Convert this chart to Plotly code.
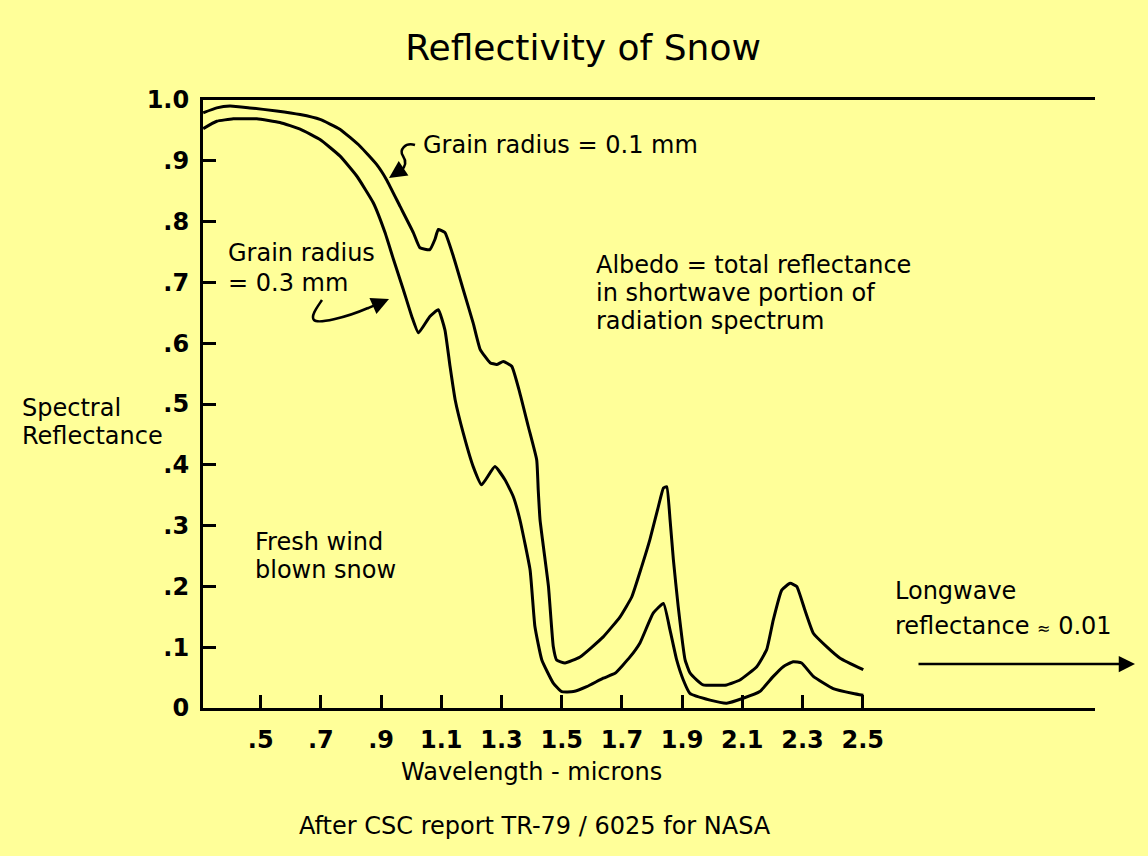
import plotly.graph_objects as go

# ---- data ----
wl_01 = [0.309, 0.354, 0.398, 0.464, 0.553, 0.631, 0.697, 0.763, 0.830, 0.885, 0.918, 0.963,
         1.007, 1.029, 1.062, 1.079, 1.090, 1.112, 1.140, 1.173, 1.206, 1.229, 1.262, 1.284,
         1.306, 1.334, 1.361, 1.389, 1.417, 1.422, 1.428, 1.439, 1.456, 1.472, 1.483, 1.511,
         1.561, 1.638, 1.694, 1.733, 1.766, 1.793, 1.821, 1.838, 1.849, 1.860, 1.871, 1.887,
         1.910, 1.926, 1.949, 1.970, 2.048, 2.092, 2.148, 2.181, 2.203, 2.231, 2.259, 2.281,
         2.308, 2.336, 2.380, 2.425, 2.502]
refl_01 = [0.979, 0.987, 0.990, 0.987, 0.982, 0.976, 0.968, 0.952, 0.924, 0.894, 0.869, 0.825,
           0.782, 0.757, 0.754, 0.771, 0.787, 0.782, 0.743, 0.688, 0.633, 0.590, 0.568, 0.565,
           0.570, 0.562, 0.518, 0.463, 0.408, 0.359, 0.310, 0.266, 0.200, 0.101, 0.079, 0.074,
           0.084, 0.117, 0.150, 0.183, 0.233, 0.277, 0.331, 0.362, 0.364, 0.310, 0.244, 0.167,
           0.079, 0.058, 0.046, 0.038, 0.038, 0.046, 0.068, 0.096, 0.145, 0.194, 0.205, 0.200,
           0.161, 0.123, 0.101, 0.082, 0.063]

wl_03 = [0.309, 0.354, 0.409, 0.487, 0.564, 0.631, 0.697, 0.763, 0.819, 0.874, 0.913, 0.941,
         0.974, 1.002, 1.024, 1.062, 1.090, 1.112, 1.129, 1.146, 1.173, 1.206, 1.234, 1.278,
         1.312, 1.339, 1.361, 1.395, 1.411, 1.434, 1.472, 1.500, 1.539, 1.583, 1.638, 1.677,
         1.727, 1.760, 1.804, 1.838, 1.860, 1.882, 1.904, 1.926, 1.993, 2.048, 2.103, 2.158,
         2.203, 2.236, 2.269, 2.297, 2.336, 2.402, 2.469, 2.502]
refl_03 = [0.953, 0.965, 0.969, 0.969, 0.963, 0.952, 0.935, 0.908, 0.875, 0.831, 0.782, 0.738,
           0.688, 0.644, 0.617, 0.644, 0.655, 0.622, 0.562, 0.507, 0.452, 0.397, 0.367, 0.397,
           0.375, 0.348, 0.310, 0.227, 0.134, 0.079, 0.041, 0.027, 0.027, 0.035, 0.049, 0.057,
           0.084, 0.107, 0.156, 0.172, 0.128, 0.079, 0.046, 0.024, 0.013, 0.008, 0.016, 0.027,
           0.052, 0.068, 0.076, 0.074, 0.052, 0.032, 0.024, 0.021]

x_tick_vals = [0.5, 0.7, 0.9, 1.1, 1.3, 1.5, 1.7, 1.9, 2.1, 2.3, 2.5]
x_tick_text = [".5", ".7", ".9", "1.1", "1.3", "1.5", "1.7", "1.9", "2.1", "2.3", "2.5"]
y_tick_vals = [0, 0.1, 0.2, 0.3, 0.4, 0.5, 0.6, 0.7, 0.8, 0.9, 1.0]
y_tick_text = ["0", ".1", ".2", ".3", ".4", ".5", ".6", ".7", ".8", ".9", "1.0"]

# ---- layout geometry (pixels) ----
W, H = 1148, 856
L, R, T, B = 203, 1095, 100, 708
BG = "#FFFF99"
FONT = "DejaVu Sans"


def px(x):
    return (x - L) / (R - L)


def py(y):
    return (B - y) / (B - T)


fig = go.Figure()
for xs, ys in [(wl_01, refl_01), (wl_03, refl_03)]:
    fig.add_trace(go.Scatter(x=xs, y=ys, mode="lines",
                             line=dict(color="black", width=3, shape="spline", smoothing=0.4),
                             showlegend=False, hoverinfo="skip"))

annotations = []


def label(text, x, y, size=24, xanchor="left"):
    annotations.append(dict(text=text, x=px(x), y=py(y), xref="paper", yref="paper",
                            xanchor=xanchor, yanchor="middle", showarrow=False,
                            font=dict(family=FONT, size=size, color="black")))


label("Grain radius = 0.1 mm", 421, 145)
label("Grain radius", 226, 253)
label("= 0.3 mm", 226, 283)
label("Albedo = total reflectance", 594, 265)
label("in shortwave portion of", 594, 293)
label("radiation spectrum", 594, 321)
label("Spectral", 20, 408)
label("Reflectance", 20, 436)
label("Fresh wind", 253, 542)
label("blown snow", 253, 570)
label("Longwave", 893, 591)
label("reflectance <span style='font-size:16px'>≈</span> 0.01", 893, 626)
label("Wavelength - microns", 531, 772, xanchor="center")
label("After CSC report TR-79 / 6025 for NASA", 535, 826, xanchor="center")


def arrow(tip, tail, size=1.4):
    annotations.append(dict(x=px(tip[0]), y=py(tip[1]), xref="paper", yref="paper",
                            ax=tail[0] - tip[0], ay=tail[1] - tip[1],
                            axref="pixel", ayref="pixel", text="", showarrow=True,
                            arrowhead=2, arrowsize=size, arrowwidth=2.5,
                            arrowcolor="black"))


arrow((389, 178), (401, 170))
arrow((389, 299), (366, 309))
arrow((1135, 664), (917, 664), size=1.3)


def path(cmds):
    out = []
    for c, pts in cmds:
        out.append(c + " ".join(f"{px(a):.5f},{py(b):.5f}" for a, b in pts))
    return " ".join(out)


shapes = [
    dict(type="path", xref="paper", yref="paper",
         path=path([("M", [(415, 145)]), ("C", [(405, 142), (399, 150), (403, 156)]),
                    ("C", [(407, 162), (405, 167), (401, 171)])]),
         line=dict(color="black", width=2.5)),
    dict(type="path", xref="paper", yref="paper",
         path=path([("M", [(322, 300)]), ("C", [(318, 306), (310, 316), (314, 320)]),
                    ("C", [(318, 324), (345, 318), (368, 308)])]),
         line=dict(color="black", width=2.5)),
]

fig.update_layout(
    width=W, height=H,
    margin=dict(l=L, r=W - R, t=T, b=H - B, pad=0),
    paper_bgcolor=BG, plot_bgcolor=BG,
    title=dict(text="Reflectivity of Snow", x=583 / W, xref="container", xanchor="center",
               y=1 - 47 / H, yref="container", yanchor="middle",
               font=dict(family=FONT, size=36, color="black")),
    xaxis=dict(range=[0.3083, 3.2718], tickvals=x_tick_vals, ticktext=x_tick_text,
               ticks="inside", ticklen=13, tickwidth=2.5, tickcolor="black",
               showline=True, linewidth=3, linecolor="black", mirror=True,
               showgrid=False, zeroline=False, ticklabelstandoff=8,
               tickfont=dict(family=FONT, size=24, color="black", weight="bold")),
    yaxis=dict(range=[0, 1.0], tickvals=y_tick_vals, ticktext=y_tick_text,
               ticks="inside", ticklen=13, tickwidth=2.5, tickcolor="black",
               showline=True, linewidth=3, linecolor="black", mirror=False,
               showgrid=False, zeroline=False, ticklabelstandoff=6,
               tickfont=dict(family=FONT, size=24, color="black", weight="bold")),
    annotations=annotations,
    shapes=shapes,
)

fig.write_html("out.html", config={"displayModeBar": False},
               post_script="document.body.style.margin='0';document.body.style.background='" + BG + "';")
